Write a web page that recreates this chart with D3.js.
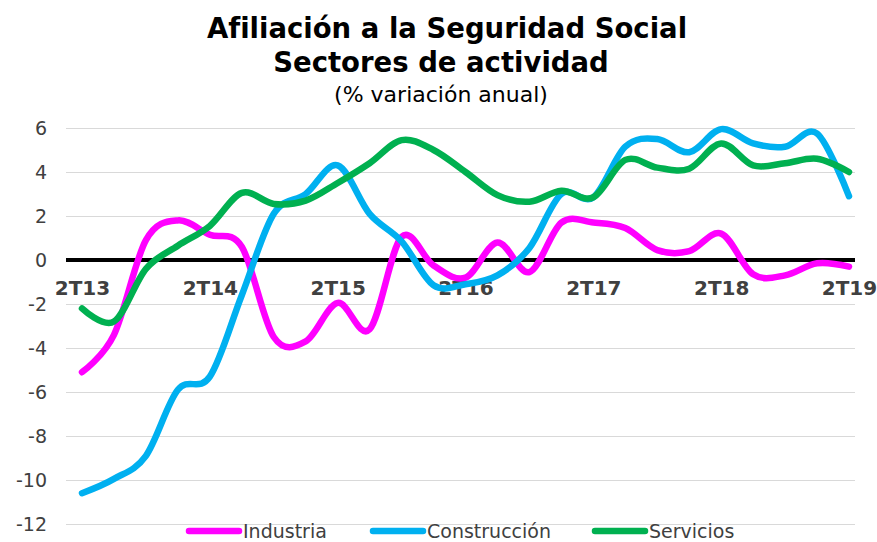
<!DOCTYPE html>
<html lang="es">
<head>
<meta charset="utf-8">
<title>Afiliación a la Seguridad Social</title>
<script src="https://d3js.org/d3.v7.min.js"></script>
<style>
	body { margin: 0; background: #fff; }
	text { font-family: "DejaVu Sans", Verdana, sans-serif; }
</style>
</head>
<body>
<div id="chart-area"></div>
<script>

// Quarters (2T13 ... 2T19)
let quarters = ["2T13", "3T13", "4T13", "1T14", "2T14", "3T14", "4T14", "1T15", "2T15", "3T15",
	"4T15", "1T16", "2T16", "3T16", "4T16", "1T17", "2T17", "3T17", "4T17", "1T18",
	"2T18", "3T18", "4T18", "1T19", "2T19"];

let tickLabels = ["2T13", "2T14", "2T15", "2T16", "2T17", "2T18", "2T19"];
let yTicks = [6, 4, 2, 0, -2, -4, -6, -8, -10, -12];

let seriesNames = ["Industria", "Construcción", "Servicios"];
let seriesColors = ["#ff00ff", "#00b0f0", "#00b050"];

// % variación anual
let industria = [-5.1, -3.4, 0.9, 1.8, 1.15, 0.6, -3.5, -3.7, -1.95, -3.15,
	1.05, -0.25, -0.8, 0.8, -0.55, 1.7, 1.7, 1.45, 0.45, 0.4,
	1.2, -0.65, -0.7, -0.15, -0.3];

let construccion = [-10.6, -9.95, -8.9, -5.9, -5.3, -1.6, 2.1, 3.0, 4.3, 2.1,
	0.85, -1.15, -1.1, -0.7, 0.55, 3.0, 2.85, 5.15, 5.5, 4.9,
	5.95, 5.3, 5.15, 5.75, 2.9];

let servicios = [-2.2, -2.8, -0.4, 0.65, 1.55, 3.05, 2.55, 2.7, 3.5, 4.4,
	5.45, 5.0, 4.0, 2.95, 2.65, 3.15, 2.85, 4.55, 4.2, 4.15,
	5.3, 4.3, 4.4, 4.6, 4.0];


class LineChartAfiliacion {

	constructor(parentElement, series) {
		this.parentElement = parentElement;
		this.series = series;

		this.initVis();
	}

	initVis() {
		let vis = this;

		vis.margin = {top: 128, right: 22, bottom: 18, left: 66};
		vis.width = 877 - vis.margin.left - vis.margin.right;
		vis.height = 542 - vis.margin.top - vis.margin.bottom;

		vis.root = d3.select("#" + vis.parentElement).append("svg")
			.attr("width", 877)
			.attr("height", 542);

		vis.svg = vis.root.append("g")
			.attr("transform", "translate(" + vis.margin.left + "," + vis.margin.top + ")");

		// Titles
		let titles = vis.root.append("g")
			.attr("text-anchor", "middle")
			.attr("fill", "#000");

		titles.append("text")
			.attr("x", 447).attr("y", 38)
			.style("font-weight", "bold")
			.style("font-size", "27.5px")
			.text("Afiliación a la Seguridad Social");

		titles.append("text")
			.attr("x", 441).attr("y", 72)
			.style("font-weight", "bold")
			.style("font-size", "27.5px")
			.text("Sectores de actividad");

		titles.append("text")
			.attr("x", 441).attr("y", 102)
			.style("font-size", "22px")
			.text("(% variación anual)");

		// Scales and axes
		vis.x = d3.scalePoint()
			.domain(quarters)
			.range([16, 783]);

		vis.y = d3.scaleLinear()
			.domain([-12, 6])
			.range([vis.height, 0]);

		vis.yAxis = d3.axisLeft(vis.y)
			.tickValues(yTicks)
			.tickSize(-vis.width)
			.tickPadding(19)
			.tickFormat(d => String(d));

		vis.xAxis = d3.axisBottom(vis.x)
			.tickValues(tickLabels)
			.tickSize(0);

		vis.line = d3.line()
			.x((d, i) => vis.x(quarters[i]))
			.y(d => vis.y(d))
			.curve(d3.curveCardinal.tension(0));

		vis.updateVis();
	}

	updateVis() {
		let vis = this;

		// Gridlines + y labels
		let yG = vis.svg.append("g")
			.attr("class", "y-axis axis")
			.call(vis.yAxis);

		yG.select(".domain").remove();
		yG.selectAll(".tick line")
			.attr("stroke", d => d === 0 ? "none" : "#d9d9d9")
			.attr("stroke-width", 1);
		yG.selectAll(".tick text")
			.attr("fill", "#404040")
			.style("font-size", "19px");

		// Zero line
		vis.svg.append("line")
			.attr("x1", 0).attr("x2", vis.width)
			.attr("y1", vis.y(0)).attr("y2", vis.y(0))
			.attr("stroke", "#000")
			.attr("stroke-width", 4);

		// Quarter labels below the zero line
		let xG = vis.svg.append("g")
			.attr("class", "x-axis axis")
			.attr("transform", "translate(0," + vis.y(0) + ")")
			.call(vis.xAxis);

		xG.select(".domain").remove();
		xG.selectAll(".tick text")
			.attr("y", 35)
			.attr("dy", null)
			.attr("fill", "#404040")
			.style("font-size", "20px")
			.style("font-weight", "bold");

		// Series lines
		vis.svg.selectAll(".series")
			.data(vis.series)
			.enter()
			.append("path")
			.attr("class", "series")
			.attr("d", d => vis.line(d.values))
			.attr("fill", "none")
			.attr("stroke", d => d.color)
			.attr("stroke-width", 6.5)
			.attr("stroke-linecap", "round")
			.attr("stroke-linejoin", "round");

		// Legend
		let legendX = [186, 370, 592];
		let legend = vis.root.selectAll(".legend")
			.data(vis.series)
			.enter()
			.append("g")
			.attr("class", "legend")
			.attr("transform", (d, i) => "translate(" + legendX[i] + ",531)");

		legend.append("line")
			.attr("x1", 3).attr("x2", 53)
			.attr("stroke", d => d.color)
			.attr("stroke-width", 6.5)
			.attr("stroke-linecap", "round");

		legend.append("text")
			.attr("x", 57)
			.attr("y", 7)
			.attr("fill", "#404040")
			.style("font-size", "19px")
			.text(d => d.name);
	}

}

let seriesData = [industria, construccion, servicios].map((values, i) => ({
	name: seriesNames[i],
	color: seriesColors[i],
	values: values
}));

new LineChartAfiliacion("chart-area", seriesData);

</script>
</body>
</html>
